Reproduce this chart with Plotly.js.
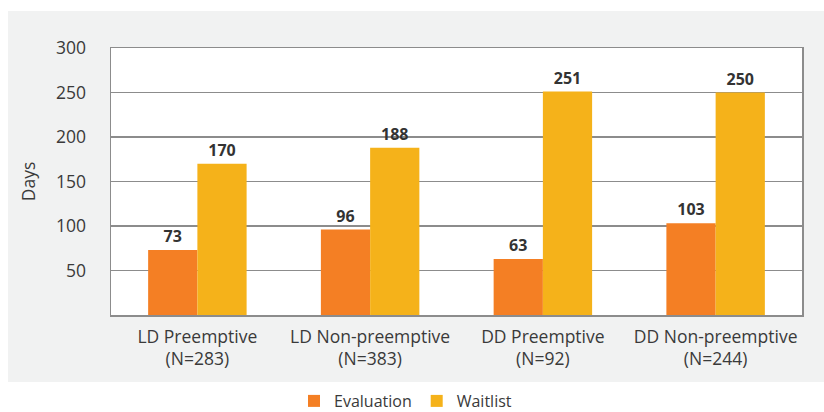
<!DOCTYPE html>
<html><head><meta charset="utf-8">
<script src="https://cdn.plot.ly/plotly-3.0.1.min.js"></script>
<style>html,body{margin:0;padding:0;background:#fff}</style>
</head><body><div id="chart" style="width:824px;height:412px"></div>
<script>
const categories = ["LD Preemptive<br>(N=283)", "LD Non-preemptive<br>(N=383)", "DD Preemptive<br>(N=92)", "DD Non-preemptive<br>(N=244)"];
const evaluation = [73, 96, 63, 103];
const waitlist = [170, 188, 251, 250];
const yTicks = [50, 100, 150, 200, 250, 300];

const font = "'Open Sans', 'Noto Sans', sans-serif";
const traces = [
  {type:'bar', name:'Evaluation', x:categories, y:evaluation, marker:{color:'#F47F24'},
   text:evaluation.map(String), textposition:'outside', cliponaxis:false,
   textfont:{family:font, size:16, color:'#333333', weight:'bold'}},
  {type:'bar', name:'Waitlist', x:categories, y:waitlist, marker:{color:'#F5B21A'},
   text:waitlist.map(String), textposition:'outside', cliponaxis:false,
   textfont:{family:font, size:16, color:'#333333', weight:'bold'}}
];
const W=824, H=412, L=111, R=22, T=48, B=97;
const pw = W-L-R, ph = H-T-B;
const px = v => (v-L)/pw, py = v => (H-B-v)/ph;
const layout = {
  width:W, height:H,
  margin:{l:L, r:R, t:T, b:B, pad:0, autoexpand:false},
  paper_bgcolor:'#ffffff', plot_bgcolor:'rgba(0,0,0,0)',
  font:{family:font, size:17, color:'#3a3a3a'},
  barmode:'group', bargap:0.43, bargroupgap:0,
  showlegend:true,
  legend:{orientation:'h', x:px(294), xanchor:'left', y:py(401), yanchor:'middle',
          font:{size:16, color:'#3a3a3a'}, bgcolor:'rgba(0,0,0,0)', traceorder:'normal',
          itemwidth:30, tracegroupgap:0},
  xaxis:{showline:true, mirror:true, linecolor:'#8c8c8c', linewidth:1.5, showgrid:false,
         ticks:'', ticklabelstandoff:5, tickfont:{size:17.5, color:'#3a3a3a'}, fixedrange:true},
  yaxis:{range:[0,300], tickvals:yTicks, showline:true, mirror:true, linecolor:'#8c8c8c', linewidth:1.5,
         showgrid:true, gridcolor:'#8c8c8c', gridwidth:1.5, zeroline:false, ticks:'',
         ticklabelstandoff:20, tickfont:{size:17.5, color:'#3a3a3a'},
         title:{text:'Days', font:{size:17.5, color:'#3a3a3a'}, standoff:16}},
  shapes:[
    {type:'rect', xref:'paper', yref:'paper', x0:px(8), x1:px(830), y0:py(382), y1:py(11),
     fillcolor:'#f1f2f2', line:{width:0}, layer:'below'},
    {type:'rect', xref:'paper', yref:'paper', x0:0, x1:1, y0:0, y1:1,
     fillcolor:'#ffffff', line:{width:0}, layer:'below'}
  ]
};
Plotly.newPlot('chart', traces, layout, {displayModeBar:false, staticPlot:true});
</script></body></html>
